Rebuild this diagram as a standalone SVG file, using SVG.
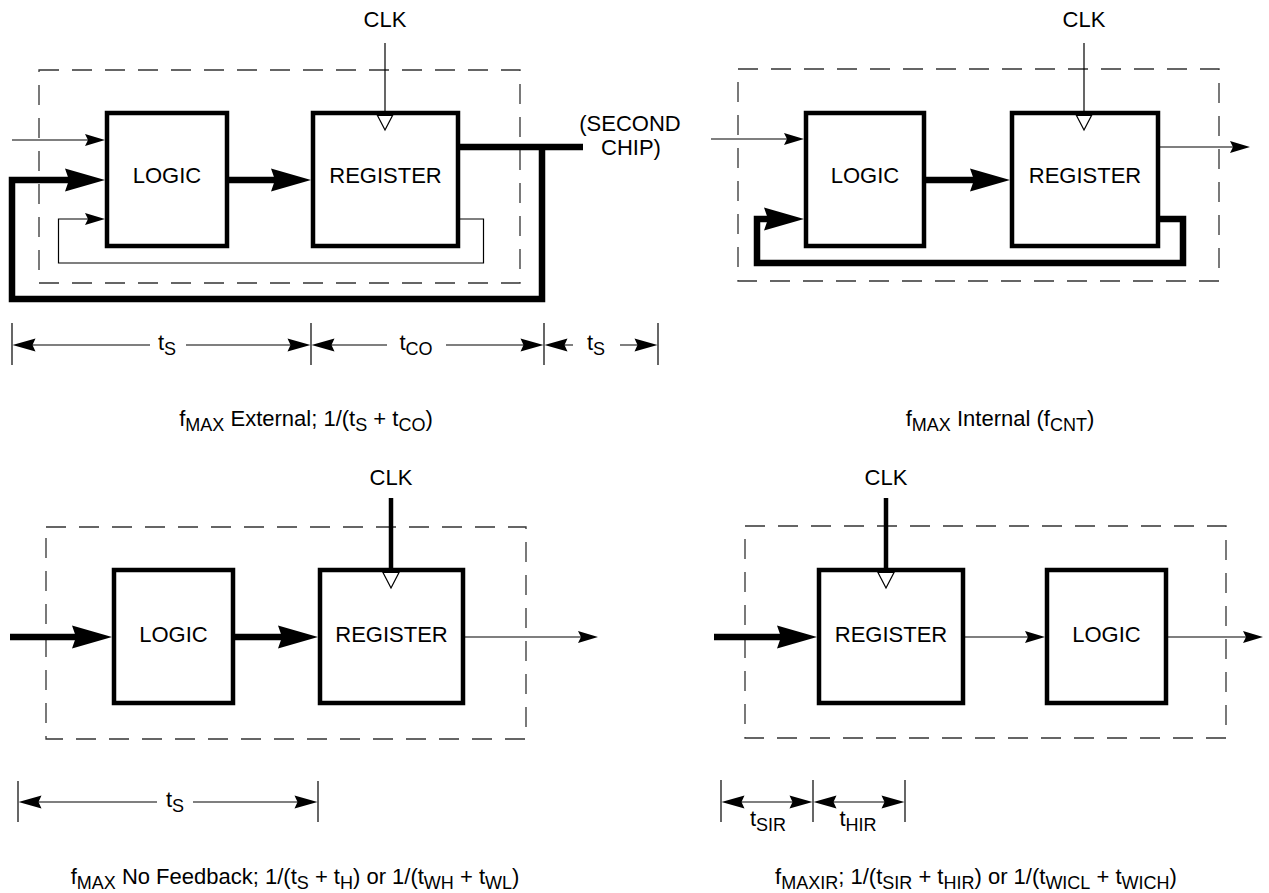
<svg xmlns="http://www.w3.org/2000/svg" xmlns:xlink="http://www.w3.org/1999/xlink" width="1269" height="893" viewBox="0 0 1269 893">
<style>
.lbl{font-family:"Liberation Sans",Arial,Helvetica,sans-serif;font-size:22px;fill:#000}
.mid{text-anchor:middle}
.sub{font-size:18px}
.box{fill:#fff;stroke:#000;stroke-width:4.5}
.dash{fill:none;stroke:#333;stroke-width:1.3;stroke-dasharray:20 13}
.thin{fill:none;stroke:#000;stroke-width:1.2}
.thick{fill:none;stroke:#000;stroke-width:6.5;stroke-linejoin:miter}
.clkw{fill:none;stroke:#000;stroke-width:4.5}
.clk{fill:#fff;stroke:#000;stroke-width:1.2}
.tick{stroke:#000;stroke-width:1.2}
.hd{fill:#000}
</style>
<defs>
<path id="hThick" d="M0,0 L-40,-11.5 L-36,0 L-40,11.5 Z"/>
<path id="hThin" d="M0,0 L-20,-6 L-17,0 L-20,6 Z"/>
<path id="hDim" d="M0,0 L-23,-6.5 L-20,0 L-23,6.5 Z"/>
</defs>
<rect width="1269" height="893" fill="#fff"/>

<!-- chip boundaries -->
<g id="boundaries">
<rect class="dash" x="39" y="70" width="481" height="213"/>
<rect class="dash" x="738" y="69" width="481" height="212"/>
<rect class="dash" x="46" y="527" width="480" height="212"/>
<rect class="dash" x="745" y="526" width="481" height="212"/>
</g>

<!-- connectors -->
<g id="connectors">
<!-- top-left: external -->
<path class="thin" d="M385,43 V113"/>
<path class="thin" d="M12,140 H88"/>
<use xlink:href="#hThin" class="hd" transform="translate(105,140)"/>
<path class="thick" d="M542,147 V299 H12 V180 H72"/>
<use xlink:href="#hThick" class="hd" transform="translate(105,180)"/>
<path class="thick" d="M458,147 H583"/>
<path class="thick" d="M229,180 H276"/>
<use xlink:href="#hThick" class="hd" transform="translate(311,180)"/>
<path class="thin" d="M458,219 H483.5 V263 H58.5 V219 H88"/>
<use xlink:href="#hThin" class="hd" transform="translate(105,219)"/>

<!-- top-right: internal -->
<path class="thin" d="M1084,43 V113"/>
<path class="thin" d="M711,139 H787"/>
<use xlink:href="#hThin" class="hd" transform="translate(804,139)"/>
<path class="thin" d="M1160,147 H1233"/>
<use xlink:href="#hThin" class="hd" transform="translate(1250,147)"/>
<path class="thick" d="M926,180 H975"/>
<use xlink:href="#hThick" class="hd" transform="translate(1010,180)"/>
<path class="thick" d="M1158,219 H1183 V263 H757 V219 H770"/>
<use xlink:href="#hThick" class="hd" transform="translate(804,219)"/>

<!-- bottom-left: no feedback -->
<path class="clkw" d="M391,498 V570"/>
<path class="thick" d="M10,637 H80"/>
<use xlink:href="#hThick" class="hd" transform="translate(112,637)"/>
<path class="thick" d="M235,637 H285"/>
<use xlink:href="#hThick" class="hd" transform="translate(318,637)"/>
<path class="thin" d="M465,637 H581"/>
<use xlink:href="#hThin" class="hd" transform="translate(598,637)"/>

<!-- bottom-right: input register -->
<path class="clkw" d="M886,498 V570"/>
<path class="thick" d="M714,637 H785"/>
<use xlink:href="#hThick" class="hd" transform="translate(817,637)"/>
<path class="thin" d="M965,637 H1028"/>
<use xlink:href="#hThin" class="hd" transform="translate(1045,637)"/>
<path class="thin" d="M1168,637 H1246"/>
<use xlink:href="#hThin" class="hd" transform="translate(1263,637)"/>
</g>

<!-- nodes -->
<g id="tl-logic">
<rect class="box" x="107" y="113" width="120" height="133"/>
<text class="lbl mid" x="167" y="183">LOGIC</text>
</g>
<g id="tl-register">
<rect class="box" x="313" y="113" width="145" height="133"/>
<polygon class="clk" points="377.5,115.5 392.5,115.5 385,130"/>
<text class="lbl mid" x="385.5" y="183">REGISTER</text>
</g>
<g id="tr-logic">
<rect class="box" x="806" y="113" width="118" height="133"/>
<text class="lbl mid" x="865" y="183">LOGIC</text>
</g>
<g id="tr-register">
<rect class="box" x="1012" y="113" width="146" height="133"/>
<polygon class="clk" points="1076.5,115.5 1091.5,115.5 1084,130"/>
<text class="lbl mid" x="1085" y="183">REGISTER</text>
</g>
<g id="bl-logic">
<rect class="box" x="114" y="570" width="119" height="133"/>
<text class="lbl mid" x="173.5" y="642">LOGIC</text>
</g>
<g id="bl-register">
<rect class="box" x="320" y="570" width="143" height="133"/>
<polygon class="clk" points="383,572.5 399,572.5 391,588"/>
<text class="lbl mid" x="391.5" y="642">REGISTER</text>
</g>
<g id="br-register">
<rect class="box" x="819" y="570" width="144" height="133"/>
<polygon class="clk" points="878,572.5 894,572.5 886,588"/>
<text class="lbl mid" x="891" y="642">REGISTER</text>
</g>
<g id="br-logic">
<rect class="box" x="1047" y="570" width="119" height="133"/>
<text class="lbl mid" x="1106.5" y="642">LOGIC</text>
</g>

<!-- labels -->
<g id="labels">
<text class="lbl mid" x="385" y="27">CLK</text>
<text class="lbl mid" x="1084" y="27">CLK</text>
<text class="lbl mid" x="391" y="485">CLK</text>
<text class="lbl mid" x="886" y="485">CLK</text>
<text class="lbl mid" x="630" y="131">(SECOND</text>
<text class="lbl mid" x="631" y="155">CHIP)</text>
</g>

<!-- timing dimensions -->
<g id="dimensions">
<line class="tick" x1="12" y1="323" x2="12" y2="365"/>
<line class="tick" x1="311" y1="323" x2="311" y2="365"/>
<line class="tick" x1="544" y1="323" x2="544" y2="365"/>
<line class="tick" x1="658" y1="323" x2="658" y2="365"/>
<path class="thin" d="M20,345 H150 M186,345 H303 M319,345 H387 M446,345 H536 M552,345 H573 M620,345 H650"/>
<use xlink:href="#hDim" class="hd" transform="translate(12.5,345) rotate(180)"/>
<use xlink:href="#hDim" class="hd" transform="translate(310.5,345)"/>
<use xlink:href="#hDim" class="hd" transform="translate(311.5,345) rotate(180)"/>
<use xlink:href="#hDim" class="hd" transform="translate(543.5,345)"/>
<use xlink:href="#hDim" class="hd" transform="translate(544.5,345) rotate(180)"/>
<use xlink:href="#hDim" class="hd" transform="translate(657.5,345)"/>
<text class="lbl mid" x="167" y="350">t<tspan class="sub" dy="5">S</tspan></text>
<text class="lbl mid" x="416" y="350">t<tspan class="sub" dy="5">CO</tspan></text>
<text class="lbl mid" x="596" y="350">t<tspan class="sub" dy="5">S</tspan></text>

<line class="tick" x1="18" y1="781" x2="18" y2="822"/>
<line class="tick" x1="318" y1="781" x2="318" y2="822"/>
<path class="thin" d="M26,802 H157 M193,802 H310"/>
<use xlink:href="#hDim" class="hd" transform="translate(18.5,802) rotate(180)"/>
<use xlink:href="#hDim" class="hd" transform="translate(317.5,802)"/>
<text class="lbl mid" x="175" y="807">t<tspan class="sub" dy="5">S</tspan></text>

<line class="tick" x1="721" y1="780" x2="721" y2="822"/>
<line class="tick" x1="813" y1="780" x2="813" y2="822"/>
<line class="tick" x1="905" y1="780" x2="905" y2="822"/>
<path class="thin" d="M729,802 H805 M821,802 H897"/>
<use xlink:href="#hDim" class="hd" transform="translate(721.5,802) rotate(180)"/>
<use xlink:href="#hDim" class="hd" transform="translate(812.5,802)"/>
<use xlink:href="#hDim" class="hd" transform="translate(813.5,802) rotate(180)"/>
<use xlink:href="#hDim" class="hd" transform="translate(904.5,802)"/>
<text class="lbl mid" x="768" y="826">t<tspan class="sub" dy="5">SIR</tspan></text>
<text class="lbl mid" x="858" y="826">t<tspan class="sub" dy="5">HIR</tspan></text>
</g>

<!-- captions -->
<g id="captions">
<text class="lbl mid" x="306" y="426">f<tspan class="sub" dy="5">MAX</tspan><tspan dy="-5"> External; 1/(t</tspan><tspan class="sub" dy="5">S</tspan><tspan dy="-5"> + t</tspan><tspan class="sub" dy="5">CO</tspan><tspan dy="-5">)</tspan></text>
<text class="lbl mid" x="1000" y="426">f<tspan class="sub" dy="5">MAX</tspan><tspan dy="-5"> Internal (f</tspan><tspan class="sub" dy="5">CNT</tspan><tspan dy="-5">)</tspan></text>
<text class="lbl mid" x="295" y="884">f<tspan class="sub" dy="5">MAX</tspan><tspan dy="-5"> No Feedback; 1/(t</tspan><tspan class="sub" dy="5">S</tspan><tspan dy="-5"> + t</tspan><tspan class="sub" dy="5">H</tspan><tspan dy="-5">) or 1/(t</tspan><tspan class="sub" dy="5">WH</tspan><tspan dy="-5"> + t</tspan><tspan class="sub" dy="5">WL</tspan><tspan dy="-5">)</tspan></text>
<text class="lbl mid" x="976" y="884">f<tspan class="sub" dy="5">MAXIR</tspan><tspan dy="-5">; 1/(t</tspan><tspan class="sub" dy="5">SIR</tspan><tspan dy="-5"> + t</tspan><tspan class="sub" dy="5">HIR</tspan><tspan dy="-5">) or 1/(t</tspan><tspan class="sub" dy="5">WICL</tspan><tspan dy="-5"> + t</tspan><tspan class="sub" dy="5">WICH</tspan><tspan dy="-5">)</tspan></text>
</g>
</svg>
